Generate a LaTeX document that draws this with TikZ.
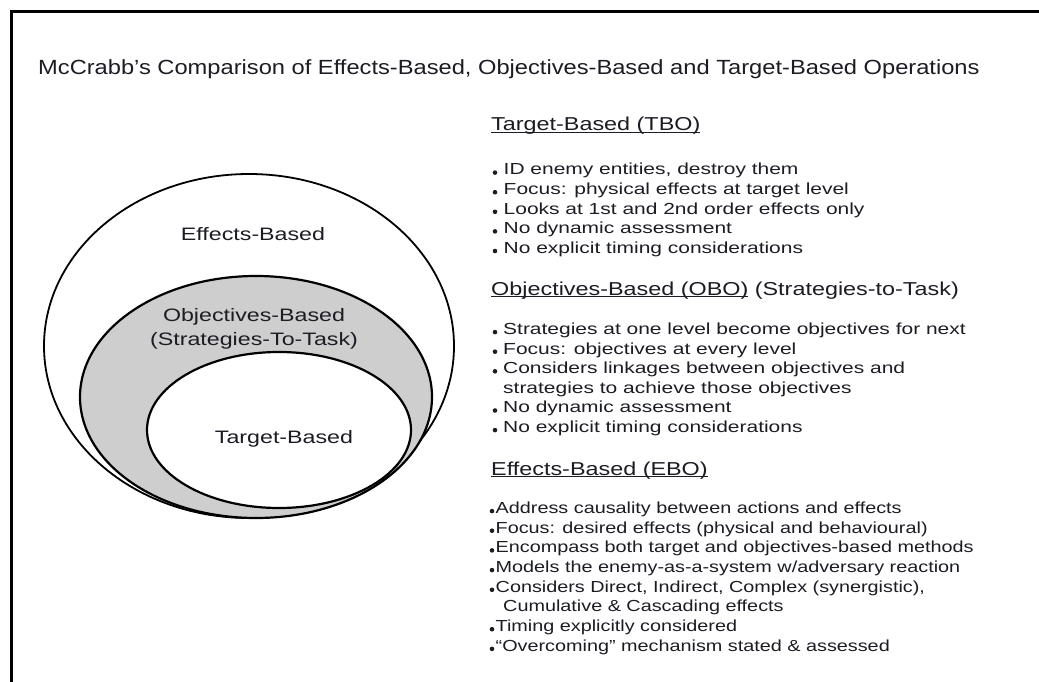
\documentclass[tikz,border=0pt]{standalone}
\usepackage{fontspec}
\setmainfont{Liberation Sans}
\newfontfamily\titlefont{Liberation Sans}[FakeStretch=1.155]
\newfontfamily\headfont{Liberation Sans}[FakeStretch=1.25]
\newfontfamily\bodyfont{Liberation Sans}[FakeStretch=1.31]
\newfontfamily\ebofont{Liberation Sans}[FakeStretch=1.238]
\newfontfamily\labfont{Liberation Sans}[FakeStretch=1.29]
\definecolor{ink}{RGB}{28,28,36}
\definecolor{ringgray}{RGB}{206,206,206}
\newcommand\ulin[1]{\setbox0\hbox{#1}\rlap{\rule[-2.4pt]{\wd0}{1.2pt}}\box0}
\tikzset{
  ttl/.style={font=\titlefont\fontsize{20.5}{24}\selectfont, text=ink, inner sep=0pt, anchor=base west},
  hd/.style={font=\headfont\fontsize{18.7}{22}\selectfont, text=ink, inner sep=0pt, anchor=base west},
  body/.style={font=\bodyfont\fontsize{16}{19.6}\selectfont, text=ink, inner sep=0pt, anchor=base west},
  ebody/.style={font=\ebofont\fontsize{16}{19.6}\selectfont, text=ink, inner sep=0pt, anchor=base west},
  lab/.style={font=\labfont\fontsize{18}{22}\selectfont, text=ink, inner sep=0pt, anchor=base},
  bul/.style={circle, fill=ink, inner sep=0pt, minimum size=4.6pt},
  frame/.style={line width=3pt, draw=black},
}
\newcommand\bitem[5]{\node[bul] (#1d) at (#2,#4-2.4) {}; \node[body] (#1) at (#3,#4) {#5};}
\newcommand\eitem[5]{\node[bul] (#1d) at (#2,#4-2.4) {}; \node[ebody] (#1) at (#3,#4) {#5};}
\begin{document}
\begin{tikzpicture}[x=1pt,y=-1pt]
\useasboundingbox (0,0) rectangle (1039,682);
\fill[white] (0,0) rectangle (1039,682);
\draw[frame] (11,682) -- (11,12) -- (1039,12);
% nested ellipses
\draw[line width=1.8pt, fill=white] (249,346) ellipse [x radius=205pt, y radius=172pt];
\draw[line width=2.2pt, fill=ringgray] (256,397) ellipse [x radius=176pt, y radius=121pt];
\draw[line width=2.2pt, fill=white] (279,430) ellipse [x radius=132pt, y radius=78pt];
\node[lab] (lEB) at (253,240) {Effects-Based};
\node[lab] (lOB1) at (254,321.7) {Objectives-Based};
\node[lab] (lOB2) at (254,345) {(Strategies-To-Task)};
\node[lab] (lTB) at (284,443) {Target-Based};
% title
\node[ttl] (title) at (38,75) {McCrabb’s Comparison of Effects-Based, Objectives-Based and Target-Based Operations};
% TBO
\node[hd] (hT) at (491,131) {\ulin{Target-Based (TBO)}};
\bitem{t1}{495}{503.5}{175}{ID enemy entities, destroy them}
\bitem{t2}{495}{503.5}{194.6}{Focus: physical effects at target level}
\bitem{t3}{495}{503.5}{214.2}{Looks at 1st and 2nd order effects only}
\bitem{t4}{495}{503.5}{233.8}{No dynamic assessment}
\bitem{t5}{495}{503.5}{253.4}{No explicit timing considerations}
% OBO
\node[hd] (hO) at (491,295) {\ulin{Objectives-Based (OBO)}\ (Strategies-to-Task)};
\bitem{o1}{495}{503}{334.5}{Strategies at one level become objectives for next}
\bitem{o2}{495}{503}{354.1}{Focus: objectives at every level}
\bitem{o3}{495}{503}{373.7}{Considers linkages between objectives and}
\node[body] (o3b) at (503,393.3) {strategies to achieve those objectives};
\bitem{o4}{495}{503}{412.9}{No dynamic assessment}
\bitem{o5}{495}{503}{432.5}{No explicit timing considerations}
% EBO
\node[hd] (hE) at (491,475) {\ulin{Effects-Based (EBO)}};
\eitem{e1}{492}{495.5}{513.5}{Address causality between actions and effects}
\eitem{e2}{492}{495.5}{533.1}{Focus: desired effects (physical and behavioural)}
\eitem{e3}{492}{495.5}{552.8}{Encompass both target and objectives-based methods}
\eitem{e4}{492}{495.5}{572.5}{Models the enemy-as-a-system w/adversary reaction}
\eitem{e5}{492}{495.5}{592.2}{Considers Direct, Indirect, Complex (synergistic),}
\node[ebody] (e5b) at (503,611.9) {Cumulative \& Cascading effects};
\eitem{e6}{492}{495.5}{631.6}{Timing explicitly considered}
\eitem{e7}{492}{495.5}{651.3}{“Overcoming” mechanism stated \& assessed}
\end{tikzpicture}
\end{document}
